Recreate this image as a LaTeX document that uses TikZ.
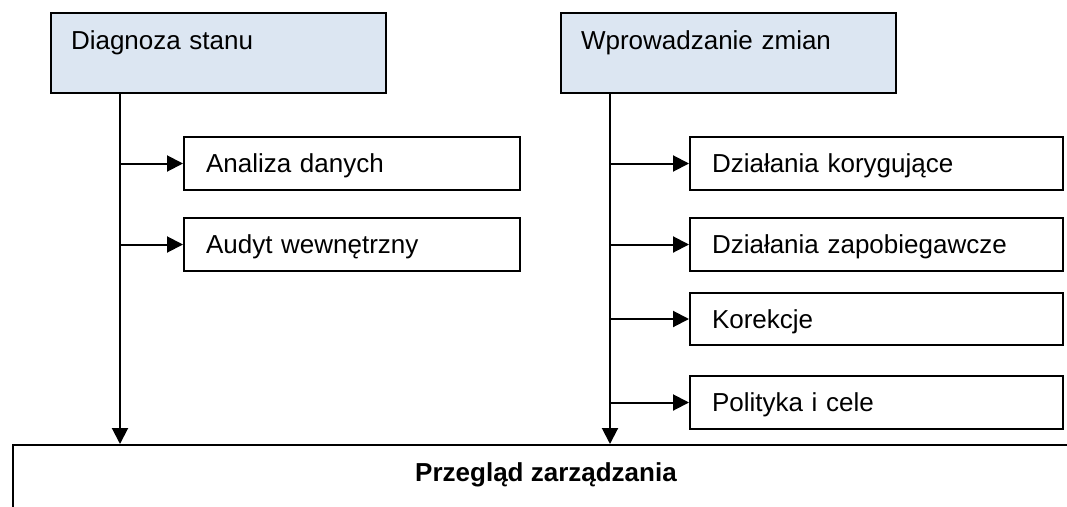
\documentclass[tikz,border=0pt]{standalone}
\usepackage{fontspec}
\setmainfont{Liberation Sans}
\usetikzlibrary{arrows.meta,positioning}
\definecolor{naglowek}{HTML}{DCE6F2}

\begin{document}
\begin{tikzpicture}[
        x=1pt,y=-1pt,
        line width=2pt,
        font=\fontsize{26}{31}\selectfont,
        glowny/.style={
          draw,
          fill=naglowek,
          anchor=north west,
          align=left,
          text width=295pt,
          inner xsep=20pt,
          inner ysep=12pt,
          text height=24pt,
          text depth=32pt
        },
        krok/.style={
          draw,
          anchor=north west,
          align=left,
          inner xsep=22pt,
          text height=24pt,
          text depth=6pt
        },
        strzalka/.style={
          -{Triangle[length=16pt,width=16pt]}
        }
        ]
        \useasboundingbox (0,0) rectangle (1067,506);

        % naglowki
        \node[glowny] (diag) at (50,12)
          {Diagnoza stanu};
        \node[glowny] (zmiany) at (560,12)
          {Wprowadzanie zmian};

        % kroki po lewej
        \node[krok,text width=292pt,minimum height=53pt] (analiza) at (183,136)
          {Analiza danych};
        \node[krok,text width=292pt,minimum height=53pt] (audyt) at (183,217)
          {Audyt wewnętrzny};

        % kroki po prawej
        \node[krok,text width=329pt,minimum height=53pt] (koryg) at (689,136)
          {Działania korygujące};
        \node[krok,text width=329pt,minimum height=53pt] (zapob) at (689,217)
          {Działania zapobiegawcze};
        \node[krok,text width=329pt,minimum height=52pt] (korekcje) at (689,292)
          {Korekcje};
        \node[krok,text width=329pt,minimum height=53pt] (polityka) at (689,375)
          {Polityka i cele};

        \node[draw,anchor=north west,minimum width=1066pt,inner ysep=12pt,
          text height=24pt,text depth=100pt,
          font=\fontsize{26}{31}\selectfont\bfseries] (przeglad) at (12,444)
          {Przegląd zarządzania};

        \coordinate (lewypion) at (120,0);
        \coordinate (prawypion) at (610,0);

        \draw[strzalka] (diag.south -| lewypion) -- (przeglad.north -| lewypion);
        \draw[strzalka] (zmiany.south -| prawypion) -- (przeglad.north -| prawypion);

        \foreach \k in {analiza,audyt}
          \draw[strzalka] (\k.west -| lewypion) -- (\k.west);
        \foreach \k in {koryg,zapob,korekcje,polityka}
          \draw[strzalka] (\k.west -| prawypion) -- (\k.west);
    \end{tikzpicture}
\end{document}
